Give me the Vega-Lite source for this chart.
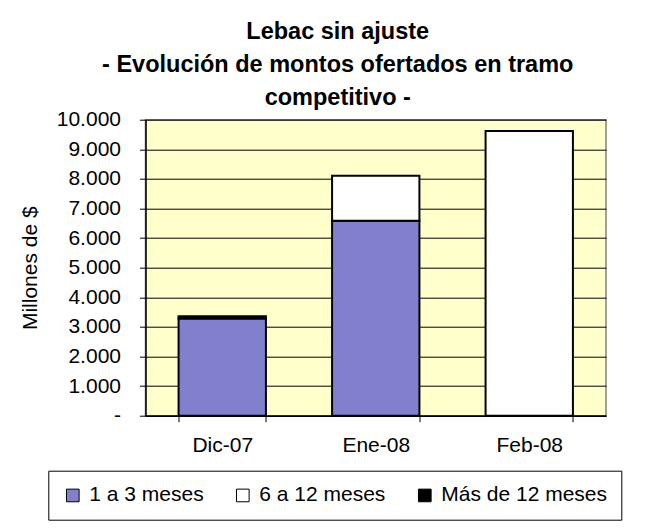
{
  "$schema": "https://vega.github.io/schema/vega-lite/v6.json",
  "autosize": {"type": "none"},
  "width": 460.5,
  "height": 296,
  "padding": {"left": 145.5, "top": 119.7, "right": 39, "bottom": 115.3},
  "background": "white",
  "title": {
    "text": ["Lebac sin ajuste", "- Evolución de montos ofertados en tramo", "competitivo -"],
    "font": "Liberation Sans",
    "fontSize": 23.5,
    "fontWeight": "bold",
    "color": "black",
    "anchor": "middle",
    "frame": "group",
    "lineHeight": 33,
    "offset": -1,
    "dx": -38
  },
  "data": {
    "values": [
      {"mes": "Dic-07", "plazo": "1 a 3 meses", "orden": 1, "monto": 3280},
      {"mes": "Dic-07", "plazo": "Más de 12 meses", "orden": 3, "monto": 80},
      {"mes": "Ene-08", "plazo": "1 a 3 meses", "orden": 1, "monto": 6590},
      {"mes": "Ene-08", "plazo": "6 a 12 meses", "orden": 2, "monto": 1520},
      {"mes": "Feb-08", "plazo": "6 a 12 meses", "orden": 2, "monto": 9620}
    ]
  },
  "mark": {"type": "bar", "stroke": "black", "strokeWidth": 2, "opacity": 1},
  "encoding": {
    "x": {
      "field": "mes",
      "type": "nominal",
      "sort": ["Dic-07", "Ene-08", "Feb-08"],
      "scale": {"paddingInner": 0.431, "paddingOuter": 0.2155},
      "axis": {
        "title": null,
        "labelAngle": 0,
        "labelFont": "Liberation Sans",
        "labelFontSize": 21,
        "labelColor": "black",
        "labelPadding": 13,
        "tickBand": "extent",
        "tickSize": 6,
        "tickColor": "black",
        "domainColor": "black",
        "domainWidth": 1.5,
        "grid": false
      }
    },
    "y": {
      "field": "monto",
      "type": "quantitative",
      "stack": "zero",
      "scale": {"domain": [0, 10000], "nice": false},
      "axis": {
        "title": "Millones de $",
        "titleFont": "Liberation Sans",
        "titleFontSize": 21,
        "titleFontWeight": "normal",
        "titleColor": "black",
        "titlePadding": 16,
        "values": [0, 1000, 2000, 3000, 4000, 5000, 6000, 7000, 8000, 9000, 10000],
        "labelExpr": "datum.value == 0 ? '-' : replace(format(datum.value, ',.0f'), ',', '.')",
        "labelFont": "Liberation Sans",
        "labelFontSize": 21,
        "labelColor": "black",
        "labelPadding": 19,
        "tickSize": 6,
        "tickColor": "black",
        "domainColor": "black",
        "domainWidth": 1.5,
        "grid": true,
        "gridColor": "black",
        "gridWidth": 1,
        "gridOpacity": 1
      }
    },
    "color": {
      "field": "plazo",
      "type": "nominal",
      "scale": {
        "domain": ["1 a 3 meses", "6 a 12 meses", "Más de 12 meses"],
        "range": ["#8080cc", "#ffffff", "#000000"]
      },
      "legend": {
        "title": null,
        "orient": "none",
        "direction": "horizontal",
        "columns": 3,
        "legendX": -97.2,
        "legendY": 351,
        "padding": 14,
        "strokeColor": "black",
        "fillColor": "white",
        "symbolType": "square",
        "symbolSize": 160,
        "symbolStrokeColor": "black",
        "symbolStrokeWidth": 1,
        "symbolOpacity": 1,
        "labelFont": "Liberation Sans",
        "labelFontSize": 21,
        "labelColor": "black",
        "labelLimit": 400,
        "labelOffset": 6,
        "columnPadding": 28
      }
    },
    "order": {"field": "orden", "type": "quantitative"}
  },
  "config": {
    "view": {"fill": "#FFFFCC", "stroke": "#808080", "strokeWidth": 1.5}
  }
}
